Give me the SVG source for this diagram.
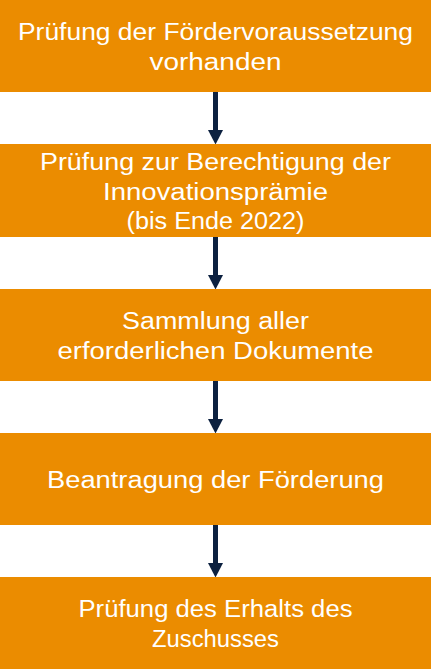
<svg xmlns="http://www.w3.org/2000/svg" width="435" height="669" viewBox="0 0 435 669">
<defs>
<style>
.box{fill:#EB8C00;}
.t{font-family:"Liberation Sans",Arial,sans-serif;font-size:23px;fill:#FFFFFF;text-anchor:middle;}
.c{stroke:#0C2140;stroke-width:5;fill:none;}
</style>
<marker id="ah" markerUnits="userSpaceOnUse" markerWidth="15" markerHeight="15" viewBox="0 0 14 14.4" refX="0" refY="7.2" orient="auto">
<path d="M0,0 L14,7.2 L0,14.4 Z" fill="#0C2140"/>
</marker>
</defs>
<rect width="435" height="669" fill="#FFFFFF"/>
<g id="connectors">
<line class="c" x1="215.5" y1="92" x2="215.5" y2="130" marker-end="url(#ah)"/>
<line class="c" x1="215.5" y1="237" x2="215.5" y2="275" marker-end="url(#ah)"/>
<line class="c" x1="215.5" y1="381" x2="215.5" y2="419" marker-end="url(#ah)"/>
<line class="c" x1="215.5" y1="525" x2="215.5" y2="563" marker-end="url(#ah)"/>
</g>
<g id="node1">
<rect class="box" x="0" y="0" width="431" height="92"/>
<text class="t" x="215.5" y="39.5" textLength="395" lengthAdjust="spacingAndGlyphs">Prüfung der Fördervoraussetzung</text>
<text class="t" x="215.5" y="69.5" textLength="132" lengthAdjust="spacingAndGlyphs">vorhanden</text>
</g>
<g id="node2">
<rect class="box" x="0" y="144" width="431" height="93"/>
<text class="t" x="215.5" y="169.5" textLength="351" lengthAdjust="spacingAndGlyphs">Prüfung zur Berechtigung der</text>
<text class="t" x="215.5" y="199.5" textLength="225" lengthAdjust="spacingAndGlyphs">Innovationsprämie</text>
<text class="t" x="215.5" y="229" textLength="178" lengthAdjust="spacingAndGlyphs">(bis Ende 2022)</text>
</g>
<g id="node3">
<rect class="box" x="0" y="289" width="431" height="92"/>
<text class="t" x="215.5" y="328.5" textLength="187" lengthAdjust="spacingAndGlyphs">Sammlung aller</text>
<text class="t" x="215.5" y="358.5" textLength="316" lengthAdjust="spacingAndGlyphs">erforderlichen Dokumente</text>
</g>
<g id="node4">
<rect class="box" x="0" y="433" width="431" height="92"/>
<text class="t" x="215.5" y="487.5" textLength="337" lengthAdjust="spacingAndGlyphs">Beantragung der Förderung</text>
</g>
<g id="node5">
<rect class="box" x="0" y="577" width="431" height="92"/>
<text class="t" x="215.5" y="617" textLength="274" lengthAdjust="spacingAndGlyphs">Prüfung des Erhalts des</text>
<text class="t" x="215.5" y="647" textLength="127" lengthAdjust="spacingAndGlyphs">Zuschusses</text>
</g>
</svg>
